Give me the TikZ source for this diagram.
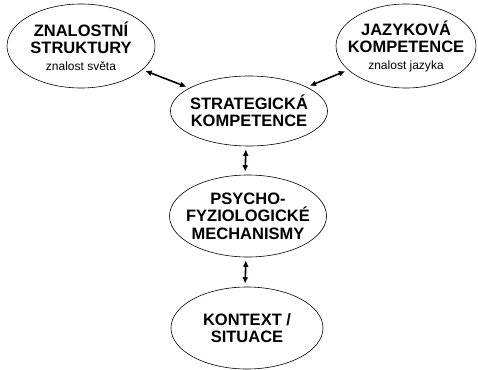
\documentclass[tikz,border=0pt]{standalone}
\usepackage{fontspec}
\setmainfont{Liberation Sans}
\usetikzlibrary{shapes.geometric,arrows.meta}
\begin{document}
\begin{tikzpicture}[x=1pt,y=-1pt,
  oval/.style={ellipse,draw=black,line width=0.6pt,inner xsep=-12pt,inner ysep=-4pt,align=center,font=\bfseries\fontsize{16.5}{17.5}\selectfont},
  arr/.style={{Latex[length=6.5pt,width=6pt]}-{Latex[length=6.5pt,width=6pt]},line width=1.6pt,shorten <=3pt,shorten >=3pt}]
\useasboundingbox (0,0) rectangle (478,369);
\def\ovalw{157};
\node[oval,minimum width=148,minimum height=84] (zs) at (81,46) {ZNALOSTNÍ\\STRUKTURY\\[-1pt]{\normalfont\fontsize{12}{14}\selectfont znalost světa}};
\node[oval,minimum width=140,minimum height=84] (jk) at (406,46) {JAZYKOVÁ\\KOMPETENCE\\[-1pt]{\normalfont\fontsize{12}{14}\selectfont znalost jazyka}};
\node[oval,minimum width=\ovalw,minimum height=70] (sk) at (249,111) {STRATEGICKÁ\\KOMPETENCE};
\node[oval,minimum width=\ovalw,minimum height=82] (pf) at (248,216) {PSYCHO-\\FYZIOLOGICKÉ\\MECHANISMY};
\node[oval,minimum width=152,minimum height=82] (ks) at (247,328) {KONTEXT /\\SITUACE};
\draw[arr] (zs) -- (sk);
\draw[arr] (jk) -- (sk);
\draw[arr] ([xshift=-3pt]sk.south) -- ([xshift=-3pt]pf.north);
\draw[arr] ([xshift=-2pt]pf.south) -- ([xshift=-2pt]ks.north);
\end{tikzpicture}
\end{document}
